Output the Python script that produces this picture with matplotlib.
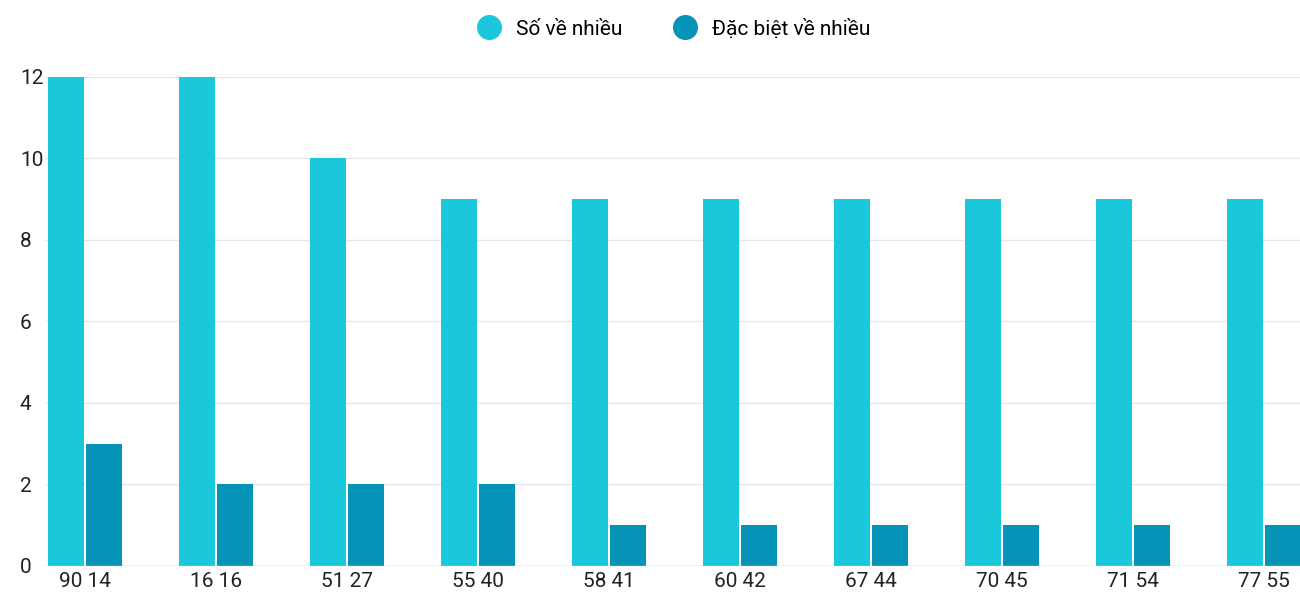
import matplotlib
matplotlib.use("Agg")
import matplotlib.pyplot as plt
from matplotlib.lines import Line2D

plt.rcParams["font.family"] = ["Roboto", "DejaVu Sans"]

labels = ["90 14", "16 16", "51 27", "55 40", "58 41", "60 42", "67 44", "70 45", "71 54", "77 55"]
so_ve_nhieu = [12, 12, 10, 9, 9, 9, 9, 9, 9, 9]
dac_biet = [3, 2, 2, 2, 1, 1, 1, 1, 1, 1]

LIGHT = "#1BC8DB"
DARK = "#0693B8"

fig = plt.figure(figsize=(13, 6), dpi=100)
ax = fig.add_axes([0.0346, 0.0567, 0.9654, 0.8153])

x = range(len(labels))
w = 0.275
ax.bar([i - 0.145 for i in x], so_ve_nhieu, width=w, color=LIGHT, zorder=3, clip_on=False)
ax.bar([i + 0.145 for i in x], dac_biet, width=w, color=DARK, zorder=3, clip_on=False)

ax.set_xlim(-0.305, 9.275)
ax.set_ylim(0, 12)
ax.set_yticks(range(0, 13, 2))
ax.set_xticks(list(x))
ax.set_xticklabels(labels, fontsize=15, color="#222222")
ax.tick_params(axis="y", labelsize=15, colors="#222222", length=0, pad=18)
ax.tick_params(axis="x", length=0, pad=4)
for lab in ax.get_yticklabels():
    lab.set_horizontalalignment("left")
ax.grid(axis="y", color="#e6e6e6", linewidth=1, zorder=0)
for s in ax.spines.values():
    s.set_visible(False)
ax.axhline(0, color="#cccccc", linewidth=1, zorder=4)

handles = [
    Line2D([], [], marker="o", linestyle="", markersize=17, color=LIGHT, label="Số về nhiều"),
    Line2D([], [], marker="o", linestyle="", markersize=17, color=DARK, label="Đặc biệt về nhiều"),
]
fig.legend(handles=handles, loc="upper center", bbox_to_anchor=(0.515, 1.0), ncol=2,
           frameon=False, fontsize=15, handletextpad=0.3, columnspacing=2.0)

fig.savefig("out.png", facecolor="white")
